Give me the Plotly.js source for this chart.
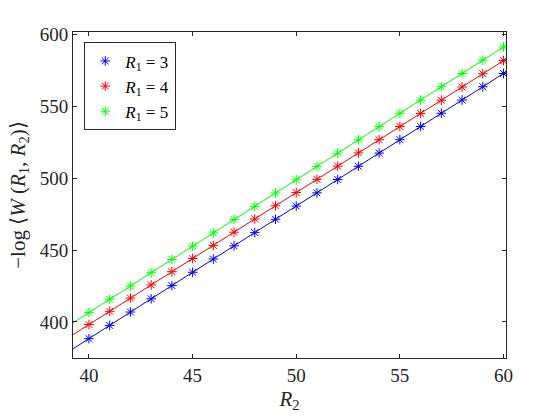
<!DOCTYPE html>
<html>
<head>
<meta charset="utf-8">
<script src="https://cdn.plot.ly/plotly-3.0.1.min.js"></script>
<style>
  body { margin: 0; background: #fff; }
  #chart text { font-family: 'Liberation Serif' !important; }
</style>
</head>
<body>
<div id="chart" style="width:560px;height:420px"></div>
<script>
// R2 values (x axis)
const r2 = [40, 41, 42, 43, 44, 45, 46, 47, 48, 49, 50, 51, 52, 53, 54, 55, 56, 57, 58, 59, 60];

// -log <W(R1,R2)>
const w_r1_3 = [388.4, 397.6, 406.9, 416.1, 425.3, 434.6, 443.8, 453.0, 462.2, 471.5, 480.7,
                489.9, 499.2, 508.4, 517.6, 526.9, 536.1, 545.3, 554.5, 563.8, 573.0];
const w_r1_4 = [398.2, 407.4, 416.6, 425.8, 435.0, 444.2, 453.3, 462.5, 471.7, 480.9, 490.1,
                499.3, 508.5, 517.7, 526.9, 536.1, 545.2, 554.4, 563.6, 572.8, 582.0];
const w_r1_5 = [406.5, 415.8, 425.0, 434.3, 443.5, 452.8, 462.0, 471.3, 480.5, 489.8, 499.0,
                508.3, 517.5, 526.8, 536.0, 545.3, 554.5, 563.8, 573.0, 582.3, 591.5];

const series = [
    {r1: 3, y: w_r1_3, color: '#0000ff'},
    {r1: 4, y: w_r1_4, color: '#ff0000'},
    {r1: 5, y: w_r1_5, color: '#00ff00'}
];

const x_range = [39.23, 60.12];
const y_range = [374.9, 601.9];

// least squares line through the points
function fit(xs, ys) {
    const n = xs.length;
    const mx = xs.reduce((a, b) => a + b, 0) / n;
    const my = ys.reduce((a, b) => a + b, 0) / n;
    let sxy = 0, sxx = 0;
    for (let i = 0; i < n; i++) {
        sxy += (xs[i] - mx) * (ys[i] - my);
        sxx += (xs[i] - mx) ** 2;
    }
    const b = sxy / sxx;
    return x => my + b * (x - mx);
}

const fontName = 'Liberation Serif';
var data = [];

series.forEach(s => {
    const f = fit(r2, s.y);
    data.push({
        x: x_range,
        y: x_range.map(f),
        mode: 'lines',
        line: {color: s.color, width: 1},
        showlegend: false,
        hoverinfo: 'skip'
    });
});

series.forEach(s => {
    data.push({
        x: r2,
        y: s.y,
        mode: 'markers',
        name: `<i>R</i><sub>1</sub> = ${s.r1}`,
        marker: {symbol: 'asterisk-open', size: 8, color: s.color, line: {color: s.color, width: 1}}
    });
});

var layout = {
    width: 560,
    height: 420,
    margin: {l: 73, r: 54, t: 32, b: 62},
    paper_bgcolor: '#fff',
    plot_bgcolor: '#fff',
    font: {family: fontName, size: 18, color: '#262626'},
    showlegend: true,
    legend: {
        x: 0.026, y: 0.968, xanchor: 'left', yanchor: 'top',
        bordercolor: '#262626', borderwidth: 1, bgcolor: '#fff',
        font: {size: 17, color: '#000'},
        tracegroupgap: 0
    },
    xaxis: {
        range: x_range,
        tickvals: [40, 45, 50, 55, 60],
        ticks: 'inside', ticklen: 4, tickcolor: '#262626',
        showline: true, linecolor: '#262626', linewidth: 1, mirror: 'ticks',
        showgrid: false, zeroline: false,
        tickfont: {size: 19},
        title: {text: '<i>R</i><sub>2</sub>', font: {size: 21}, standoff: 6}
    },
    yaxis: {
        range: y_range,
        tickvals: [400, 450, 500, 550, 600],
        ticks: 'inside', ticklen: 4, tickcolor: '#262626',
        showline: true, linecolor: '#262626', linewidth: 1, mirror: 'ticks',
        showgrid: false, zeroline: false,
        tickfont: {size: 19},
        title: {text: '\u2212log \u27E8<i>W</i> (<i>R</i><sub>1</sub>, <i>R</i><sub>2</sub>)\u27E9', font: {size: 21}, standoff: 8}
    }
};

Plotly.newPlot('chart', data, layout, {displayModeBar: false});
</script>
</body>
</html>
